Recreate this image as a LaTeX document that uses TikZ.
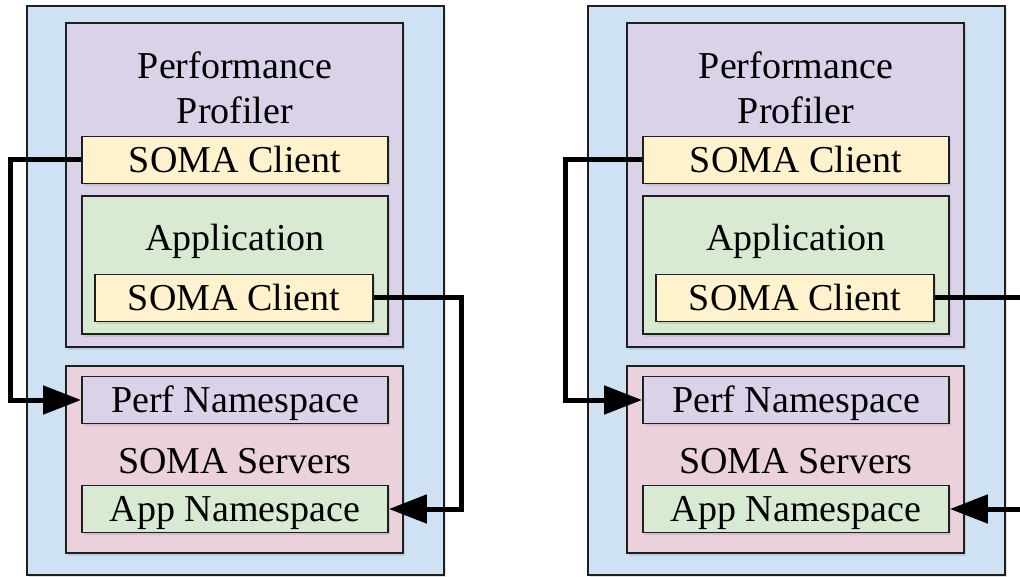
\documentclass[tikz,border=0pt]{standalone}
\usepackage{fontspec}
\setmainfont{Liberation Serif}
\usetikzlibrary{arrows.meta,shadows}

\definecolor{hostblue}{HTML}{CFE2F3}
\definecolor{profpurple}{HTML}{D9D2E9}
\definecolor{clientyellow}{HTML}{FFF2CC}
\definecolor{appgreen}{HTML}{D9EAD3}
\definecolor{serverpink}{HTML}{EAD1DC}

\tikzset{
  box/.style={rectangle, draw=black!88, line width=1.8pt, inner sep=0pt,
    drop shadow={shadow xshift=2pt, shadow yshift=-2.5pt, opacity=0.22}},
  txt/.style={font=\fontsize{38}{45}\selectfont, align=center, inner sep=0pt},
  slot/.style={box, txt, minimum width=306pt, minimum height=47pt,
    text height=25pt, text depth=0pt},
  link/.style={line width=5pt, line join=miter, draw=black,
    -{Triangle[length=38pt, width=28pt]}},
}

% one host stack: profiler with its client, application with its client, servers
\newcommand{\somapanel}[2]{%
  \begin{scope}[xshift=#1pt]
    \node[box, fill=hostblue, minimum width=417pt, minimum height=569pt] (host#2) at (235.5,290.5) {};
    \node[box, fill=profpurple, minimum width=337pt, minimum height=324pt] (prof#2) at (234.5,185) {};
    \node[txt] (proftitle#2) at (235,88) {Performance\\Profiler};
    \node[slot, fill=clientyellow] (pc#2) at (235,160) {SOMA Client};
    \node[box, fill=appgreen, minimum width=306pt, minimum height=138pt] (app#2) at (235,265) {};
    \node[txt, anchor=base] (apptitle#2) at (235,251) {Application};
    \node[slot, fill=clientyellow, minimum width=278pt] (ac#2) at (234,298) {SOMA Client};
    \node[box, fill=serverpink, minimum width=337pt, minimum height=187pt] (srv#2) at (234.5,459.5) {};
    \node[slot, fill=profpurple] (pn#2) at (235,400) {Perf Namespace};
    \node[txt, anchor=base] (srvtitle#2) at (235,473) {SOMA Servers};
    \node[slot, fill=appgreen] (an#2) at (235,509) {App Namespace};
  \end{scope}%
}

\begin{document}
\begin{tikzpicture}[x=1pt, y=-1pt]
  \clip (0,0) rectangle (1020,577);
  \fill[white] (0,0) rectangle (1020,577);

  \somapanel{0}{L}
  \somapanel{561}{R}

  % routing columns of the connectors
  \coordinate (colLa) at (10,0);
  \coordinate (colLb) at (461,0);
  \coordinate (colRa) at (565,0);
  \coordinate (colRb) at (1040,0);

  \draw[link] (pcL.west) -- (pcL.west -| colLa) |- (pnL.west);
  \draw[link] (acL.east) -- (acL.east -| colLb) |- (anL.east);
  \draw[link] (pcR.west) -- (pcR.west -| colRa) |- (pnR.west);
  \draw[link] (acR.east) -- (acR.east -| colRb) |- (anR.east);
\end{tikzpicture}
\end{document}
